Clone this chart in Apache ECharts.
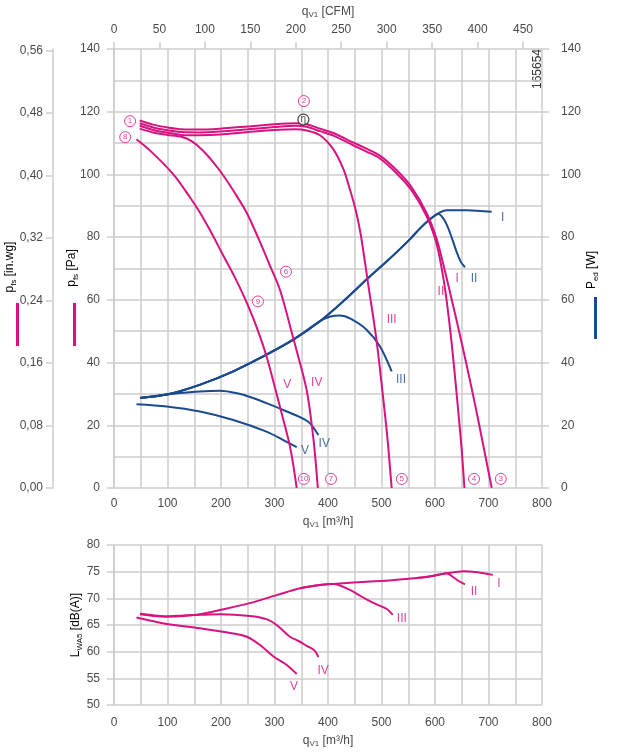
<!DOCTYPE html>
<html><head><meta charset="utf-8">
<script src="https://cdn.jsdelivr.net/npm/echarts@6/dist/echarts.min.js"></script>
<style>html,body{margin:0;padding:0;background:#fff}#c{width:631px;height:752px}</style>
</head><body><div id="c"></div>
<script>
// ---- data (q in m³/h) ----
const cfmTicks = [0,50,100,150,200,250,300,350,400,450];
const inwgTicks = [0,0.08,0.16,0.24,0.32,0.40,0.48,0.56];

const pressureI = [[48,117.2],[75,115.8],[100,115.0],[126,114.4],[160,114.3],[198,114.6],[250,115.3],[300,116.0],[340,116.3],[360,116.0],[385,114.6],[410,113.2],[447,110.2],[472,108.2],[497,106.0],[528,101.4],[556,96.0],[584,87.8],[603,79.5],[616,71],[630,61],[645,50],[660,38.5],[675,26.5],[690,13.8],[706,0]];
const pressureII = [[48,116.3],[75,114.9],[100,114.1],[126,113.5],[160,113.4],[198,113.7],[250,114.4],[300,115.1],[340,115.5],[360,115.2],[385,113.8],[410,112.4],[447,109.3],[472,107.3],[497,105.1],[528,100.4],[556,95.0],[584,86.8],[602,78.5],[612,70.5],[620,62],[628,51],[636,38],[644,23.5],[650,12],[655,0]];
const pressureIII = [[48,115.5],[75,114.1],[100,113.3],[126,112.6],[160,112.5],[198,112.7],[250,113.5],[300,114.2],[340,114.4],[360,114.0],[385,112.5],[410,108],[429,101.6],[441,95.2],[452,88.5],[461,81],[476,64],[490,48],[501,32],[511,16],[519,0]];
const pressureIV = [[48,114.6],[75,113.3],[100,112.6],[126,112.0],[145,110.6],[165,107.8],[185,104],[205,99.5],[225,94.3],[248,87.8],[270,79.6],[290,71.5],[310,63.3],[335,47.8],[360,31.3],[373,15.3],[381,0]];
const pressureV = [[42,111.2],[70,107.2],[111,100],[140,93.2],[160,88],[181,81.7],[201,75.2],[225,67.5],[245,60.3],[265,52],[285,42],[310,26],[329,13.2],[341.5,0]];

const powerI = [[48.6,28.7],[98.5,29.8],[160,32.9],[223,37.2],[285,42.5],[335,47.3],[385,53.2],[430,59.8],[472,66.5],[510,72.3],[553,79.3],[572,82.8],[590,85.6],[606,87.6],[622,88.6],[659,88.6],[706,88.1]];
const powerII = [[48.6,28.7],[98.5,29.8],[160,32.9],[223,37.2],[285,42.5],[335,47.3],[385,53.2],[430,59.8],[472,66.5],[510,72.3],[553,79.3],[572,82.8],[590,85.6],[606,87.4],[617,85.6],[628,81.4],[640,75.5],[648,72.2],[656,70.4]];
const powerIII = [[48.6,28.7],[98.5,29.8],[160,32.9],[223,37.2],[285,42.5],[335,47.3],[385,53.2],[403,54.6],[422,55],[442,54],[472,50.5],[497,45.2],[519,37.2]];
const powerIV = [[48.6,28.7],[98.5,29.8],[130,30.4],[160,30.8],[198,31],[230,30.2],[260,28.7],[292,26.6],[323,24.4],[350,22.4],[366,20.7],[382,16.9]];
const powerV = [[42,26.7],[98.5,26],[160.7,24.4],[223,21.7],[285,18],[316.5,15.3],[341.5,13]];

const soundI = [[48.6,67.1],[75,66.8],[98.5,66.6],[130,66.7],[160.7,67.0],[198,67.8],[254,69.1],[304,70.6],[348,71.9],[385,72.5],[410,72.7],[472,73.1],[520,73.4],[566,73.8],[595,74.2],[622,74.7],[653,75.1],[680,74.9],[708,74.4]];
const soundII = [[566,73.8],[595,74.2],[622,74.7],[635,73.9],[645,73.2],[656,72.6]];
const soundIII = [[348,71.9],[385,72.5],[410,72.7],[441,71.6],[458,70.6],[472,69.8],[490,68.9],[510,68],[521,66.9]];
const soundIV = [[48.6,67.0],[75,66.7],[98.5,66.6],[130,66.8],[160.7,66.9],[198,67.0],[254,66.7],[285,66.1],[304,65.0],[329,62.8],[345,62.0],[360,61.1],[375,60.2],[382,59.0]];
const soundV = [[42,66.4],[98.5,65.2],[160.7,64.4],[223,63.4],[248,62.8],[273,61.25],[298,59.1],[323,57.5],[341.5,55.8]];

const circledLabels = [[30,117,'1'],[355,123.4,'2'],[723,2.9,'3'],[673,2.9,'4'],[538,2.9,'5'],[321.5,69,'6'],[405.6,2.9,'7'],[21,111.9,'8'],[269,59.5,'9'],[355,2.9,'10']];
const etaLabel = [[354,117.5,'η']];
const pressureRoman = [[641.5,66.8,'I'],[611,62.6,'II'],[519,53.7,'III'],[379,33.7,'IV'],[324,32.9,'V']];
const powerRoman = [[726.5,86.3,'I'],[673,66.8,'II'],[536.4,34.5,'III'],[393,14.1,'IV'],[357,11.9,'V']];
const soundRoman = [[719.6,72.8,'I'],[673,71.2,'II'],[538,66.1,'III'],[391,56.4,'IV'],[336.4,53.4,'V']];

// ---- chart ----
const M3H_PER_CFM = 1.69901, PA_PER_INWG = 249.089;
const PINK = '#d6137f', BLUE = '#1c4a8e', GRID = '#cdcdcd', TXT = '#4a4a4a';
const FONT = '"Liberation Sans", Arial, sans-serif';
const chart = echarts.init(document.getElementById('c'), null, {renderer: 'canvas'});

const rich = {
  b: {fontSize: 12, color: TXT, fontFamily: FONT, lineHeight: 15},
  s: {fontSize: 8, color: TXT, fontFamily: FONT, lineHeight: 9, verticalAlign: 'bottom'}
};
const lbl = {color: TXT, fontSize: 12, fontFamily: FONT};
const gridLine = {show: true, lineStyle: {color: GRID, width: 1.5}};
const noZeroLine = (show) => ({show, onZero: false, lineStyle: {color: GRID, width: 1.5}});

function line(data, color, xi, yi, z) {
  return {type: 'line', data, xAxisIndex: xi, yAxisIndex: yi, symbol: 'none', showSymbol: false,
    smooth: 0.3, lineStyle: {color, width: 2}, z, silent: true, animation: false};
}
function romans(data, color, xi, yi) {
  return {type: 'scatter', data, xAxisIndex: xi, yAxisIndex: yi, symbolSize: 0, z: 10, silent: true,
    label: {show: true, position: 'inside', formatter: p => p.value[2], color, fontSize: 12, fontFamily: FONT}};
}
function vName(x, y, main, sub, tail) {
  return {type: 'text', x, y, rotation: Math.PI / 2, silent: true,
    style: {text: '{b|' + main + '}{s|' + sub + '}{b|' + tail + '}', rich, align: 'center', verticalAlign: 'middle'}};
}

const option = {
  animation: false,
  backgroundColor: '#fff',
  grid: [
    {left: 114, top: 49, width: 428, height: 439, containLabel: false, outerBoundsMode: 'none'},
    {left: 114, top: 545, width: 428, height: 160, containLabel: false, outerBoundsMode: 'none'}
  ],
  xAxis: [
    {gridIndex: 0, type: 'value', position: 'bottom', min: 0, max: 800, interval: 100,
      axisLine: noZeroLine(false), axisTick: {show: false},
      axisLabel: Object.assign({margin: 10}, lbl),
      splitLine: gridLine, minorTick: {show: false, splitNumber: 2}, minorSplitLine: gridLine,
      name: '{b|q}{s|V1}{b| [m³/h]}', nameLocation: 'middle', nameGap: 26, nameMoveOverlap: false, nameTextStyle: {rich}},
    {gridIndex: 0, type: 'value', position: 'top', min: 0, max: 800 / M3H_PER_CFM,
      axisLine: noZeroLine(false),
      axisTick: {show: true, length: 7, customValues: cfmTicks, lineStyle: {color: GRID, width: 1.5}},
      axisLabel: Object.assign({margin: 13, customValues: cfmTicks}, lbl),
      splitLine: {show: false},
      name: '{b|q}{s|V1}{b| [CFM]}', nameLocation: 'middle', nameGap: 30, nameMoveOverlap: false, nameTextStyle: {rich}},
    {gridIndex: 1, type: 'value', position: 'bottom', min: 0, max: 800, interval: 100,
      axisLine: noZeroLine(false), axisTick: {show: false},
      axisLabel: Object.assign({margin: 12}, lbl),
      splitLine: gridLine, minorTick: {show: false, splitNumber: 2}, minorSplitLine: gridLine,
      name: '{b|q}{s|V1}{b| [m³/h]}', nameLocation: 'middle', nameGap: 28, nameMoveOverlap: false, nameTextStyle: {rich}}
  ],
  yAxis: [
    {gridIndex: 0, type: 'value', position: 'left', min: 0, max: 140, interval: 20,
      axisLine: noZeroLine(true),
      axisTick: {show: true, length: 7, lineStyle: {color: GRID, width: 1.5}},
      axisLabel: Object.assign({margin: 14}, lbl),
      splitLine: gridLine, minorTick: {show: false, splitNumber: 2}, minorSplitLine: gridLine},
    {gridIndex: 0, type: 'value', position: 'left', offset: 61, min: 0, max: 140 / PA_PER_INWG,
      axisLine: noZeroLine(true),
      axisTick: {show: true, length: 7, customValues: inwgTicks, lineStyle: {color: GRID, width: 1.5}},
      axisLabel: Object.assign({margin: 10, customValues: inwgTicks,
        formatter: v => v.toFixed(2).replace('.', ',')}, lbl),
      splitLine: {show: false}},
    {gridIndex: 0, type: 'value', position: 'right', min: 0, max: 140, interval: 20,
      axisLine: noZeroLine(false),
      axisTick: {show: true, length: 7, lineStyle: {color: GRID, width: 1.5}},
      axisLabel: Object.assign({margin: 19}, lbl),
      splitLine: {show: false}},
    {gridIndex: 1, type: 'value', position: 'left', min: 50, max: 80, interval: 5,
      axisLine: noZeroLine(true),
      axisTick: {show: true, length: 7, lineStyle: {color: GRID, width: 1.5}},
      axisLabel: Object.assign({margin: 14}, lbl),
      splitLine: gridLine}
  ],
  series: [
    line(powerV, BLUE, 0, 2, 3), line(powerIV, BLUE, 0, 2, 3), line(powerIII, BLUE, 0, 2, 3),
    line(powerII, BLUE, 0, 2, 3), line(powerI, BLUE, 0, 2, 3),
    line(pressureV, PINK, 0, 0, 4), line(pressureIV, PINK, 0, 0, 4), line(pressureIII, PINK, 0, 0, 4),
    line(pressureII, PINK, 0, 0, 4), line(pressureI, PINK, 0, 0, 4),
    line(soundV, PINK, 2, 3, 4), line(soundIV, PINK, 2, 3, 4), line(soundIII, PINK, 2, 3, 4),
    line(soundII, PINK, 2, 3, 4), line(soundI, PINK, 2, 3, 4),
    {type: 'scatter', data: circledLabels, xAxisIndex: 0, yAxisIndex: 0, symbol: 'circle', symbolSize: 11, z: 11, silent: true,
      itemStyle: {color: '#fff', borderColor: PINK, borderWidth: 1},
      label: {show: true, position: 'inside', formatter: p => p.value[2], color: PINK,
        fontSize: 8, fontFamily: FONT}},
    {type: 'scatter', data: etaLabel, xAxisIndex: 0, yAxisIndex: 0, symbol: 'circle', symbolSize: 11, z: 11, silent: true,
      itemStyle: {color: '#fff', borderColor: '#111', borderWidth: 1.2},
      label: {show: true, position: 'inside', formatter: p => p.value[2], color: '#111',
        fontSize: 10, fontFamily: FONT}},
    romans(pressureRoman, PINK, 0, 0),
    romans(powerRoman, BLUE, 0, 2),
    romans(soundRoman, PINK, 2, 3)
  ],
  graphic: [
    {type: 'rect', left: 16, top: 303, shape: {width: 3, height: 43}, style: {fill: PINK}, silent: true},
    {type: 'rect', left: 73, top: 303, shape: {width: 3, height: 43}, style: {fill: PINK}, silent: true},
    {type: 'rect', left: 594, top: 297, shape: {width: 3, height: 42}, style: {fill: BLUE}, silent: true},
    vName(10, 267, 'p', 'fs', ' [in.wg]'),
    vName(72, 268, 'p', 'fs', ' [Pa]'),
    vName(592, 270, 'P', 'ed', ' [W]'),
    vName(76, 625, 'L', 'WA5', ' [dB(A)]'),
    {type: 'text', x: 538, y: 69, rotation: Math.PI / 2, silent: true,
      style: {text: '165654', fontSize: 12, fontFamily: FONT, fill: '#333', align: 'center', verticalAlign: 'middle'}}
  ]
};
chart.setOption(option);
</script>
</body></html>
